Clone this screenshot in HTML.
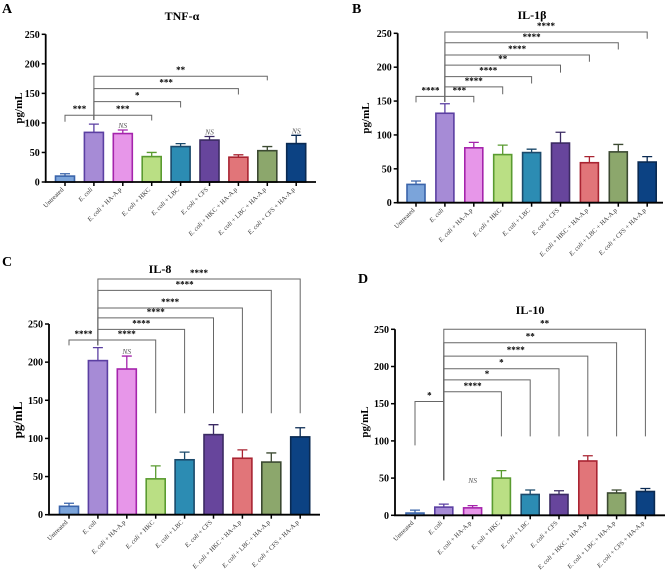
<!DOCTYPE html>
<html><head><meta charset="utf-8">
<style>
html,body{margin:0;padding:0;background:#fff;}
svg{display:block;font-family:"Liberation Serif",serif;}
</style></head>
<body>
<svg id="fig" width="669" height="578" viewBox="0 0 669 578" xmlns="http://www.w3.org/2000/svg"></svg>
<script>
// ---- data ----
const categories = ["Untreated","E. coli","E. coli + HA-A.p","E. coli + HKC","E. coli + LBC","E. coli + CFS","E. coli + HKC + HA-A.p","E. coli + LBC + HA-A.p","E. coli + CFS + HA-A.p"];
const tnfValues = [10,84,82,43,60,71,42,53,65];
const tnfErrors = [14,98,88,50,65,77,46,60,79];
const il1bValues = [27,132,81,71,74,88,59,75,60];
const il1bErrors = [32,146,89,85,79,104,68,86,68];
const il8Values = [11,202,191,47,72,105,74,69,102];
const il8Errors = [15,219,208,64,82,118,85,81,114];
const il10Values = [3,11,10,50,28,28,73,30,32];
const il10Errors = [7,15,13,60,34,33,80,34,36];
const yTicks = [0,50,100,150,200,250];
// brackets: [fromIndex, toIndex, height, leftLegEnd, rightLegEnd, label]
const tnfBrackets = [[0,1,113,102,105,"***"],[1,3,113,105,104,"***"],[1,4,136,105,126,"*"],[1,6,158,105,148,"***"],[1,7,179,105,172,"**"]];
const il1bBrackets = [[0,1,157,148,149,"****"],[1,2,157,149,148,"***"],[1,3,171,149,160,"****"],[1,4,186,149,176,"****"],[1,5,203,149,192,"**"],[1,6,218,149,208,"****"],[1,7,236,149,226,"****"],[1,8,252,149,242,"****"]];
const il8Brackets = [[0,1,229,222,222,"****"],[1,3,229,222,133,"****"],[1,4,243,222,133,"****"],[1,5,258,222,133,"****"],[1,6,271,222,133,"****"],[1,7,294,222,133,"****"],[1,8,309,222,133,"****"]];
const il10Brackets = [[0,1,153,94,47,"*"],[1,3,166,47,106,"****"],[1,4,182,47,106,"*"],[1,5,197,47,106,"*"],[1,6,214,47,106,"****"],[1,7,232,47,106,"**"],[1,8,250,47,106,"**"]];
const tnfNS = [[2,88],[5,77],[8,79]];
const il1bNS = [];
const il8NS = [[2,208]];
const il10NS = [[2,41]];

const fills = ["#7ba4da","#a68bd6","#e796e9","#badf84","#2c8cb3","#67459c","#e17579","#8ca76c","#0c4283"];
const strokes = ["#3a64aa","#5b3fa2","#a524ac","#5a9b30","#1b4a6b","#3b2b63","#a92432","#3c4a32","#0a2a52"];

const NS = "http://www.w3.org/2000/svg";
const svg = document.getElementById("fig");
function mk(tag, attrs, parent){const e=document.createElementNS(NS,tag);for(const k in attrs)e.setAttribute(k,attrs[k]);(parent||svg).appendChild(e);return e;}

function panel(cfg, values, errors, brackets, nsMarks){
  const g = mk("g",{});
  
  
  const y = v => cfg.y0 - v/250*(cfg.y0-cfg.y250);
  const x = i => cfg.x0 + i*cfg.step;
  const L = mk("text",{x:cfg.lx,y:cfg.ly,"font-size":14,"font-weight":"bold"},g); L.textContent=cfg.letter;
   
  const T = mk("text",{x:cfg.tx,y:cfg.ty,"font-size":12,"font-weight":"bold","text-anchor":"middle"},g); T.textContent=cfg.title;
   
  values.forEach((v,i)=>{
    const cx=x(i), bw=cfg.bw;
    const eb = mk("path",{d:`M${cx},${y(v)} V${y(errors[i])} M${cx-5},${y(errors[i])} H${cx+5}`,stroke:strokes[i],"stroke-width":1.3,fill:"none"},g);
     
    const r = mk("rect",{x:cx-bw/2,y:y(v),width:bw,height:Math.max(0,y(0)-y(v)),fill:fills[i],stroke:strokes[i],"stroke-width":1.6},g);
     
  });
  const ax = mk("path",{d:`M${cfg.ax},${cfg.y250} V${cfg.y0} H${cfg.xEnd}`,stroke:"#000","stroke-width":1.8,fill:"none"},g);
   
  yTicks.forEach(t=>{
    mk("line",{x1:cfg.ax-4,x2:cfg.ax,y1:y(t),y2:y(t),stroke:"#000","stroke-width":1.5},g);
    const tl = mk("text",{x:cfg.ax-6,y:y(t)+3.5,"font-size":10,"font-weight":"bold","text-anchor":"end"},g);
    tl.textContent=t;
     
  });
  categories.forEach((c,i)=>{
    mk("line",{x1:x(i),x2:x(i),y1:cfg.y0,y2:cfg.y0+4,stroke:"#000","stroke-width":1.5},g);
    const t = mk("text",{transform:`translate(${x(i)-1},${cfg.y0+8}) rotate(-45)`,"font-size":6.5,"text-anchor":"end",fill:"#333"},g);
     
    if(c.startsWith("E. coli")){
      const s=mk("tspan",{"font-style":"italic"},t); s.textContent="E. coli";
      const r=mk("tspan",{},t); r.textContent=c.slice(7);
    } else t.textContent=c;
  });
  const yl = mk("text",{transform:`translate(${cfg.ylx},${cfg.yly}) rotate(-90)`,"font-size":cfg.ylfs,"font-weight":"bold","text-anchor":"middle"},g);
  yl.textContent="pg/mL";
   
  brackets.forEach(b=>{
    const [a,c,h,legL,legR,lab]=b;
    const p = mk("path",{d:`M${x(a)},${y(legL)} V${y(h)} H${x(c)} V${y(legR)}`,stroke:"#666","stroke-width":1,fill:"none"},g);
     
    const t = mk("text",{x:(x(a)+x(c))/2,y:y(h)-3,"font-size":9,"font-weight":"bold","text-anchor":"middle"},g);
    t.textContent=lab;
     
  });
  nsMarks.forEach(n=>{
    const t = mk("text",{x:x(n[0]),y:y(n[1])-2,"font-size":7.5,"font-style":"italic","text-anchor":"middle",fill:"#555"},g);
    t.textContent="NS";
     
  });
}

panel({name:"panel-a-tnf",letter:"A",lx:2,ly:13,title:"TNF-α",tx:182,ty:20,x0:65,step:28.9,bw:19,y0:182,y250:34.3,ax:45.7,xEnd:316,ylx:22,yly:108,ylfs:11},tnfValues,tnfErrors,tnfBrackets,tnfNS);
panel({name:"panel-b-il1b",letter:"B",lx:352,ly:13,title:"IL-1β",tx:532,ty:19,x0:416,step:28.9,bw:18,y0:202.7,y250:33.3,ax:397.7,xEnd:663,ylx:369,yly:118,ylfs:11},il1bValues,il1bErrors,il1bBrackets,il1bNS);
panel({name:"panel-c-il8",letter:"C",lx:2,ly:266,title:"IL-8",tx:160,ty:273,x0:69,step:28.9,bw:19,y0:514.7,y250:324,ax:49,xEnd:320,ylx:22,yly:420,ylfs:13},il8Values,il8Errors,il8Brackets,il8NS);
panel({name:"panel-d-il10",letter:"D",lx:358,ly:283,title:"IL-10",tx:530,ty:314,x0:415,step:28.8,bw:18,y0:515.3,y250:329.3,ax:395,xEnd:665,ylx:368,yly:422,ylfs:11},il10Values,il10Errors,il10Brackets,il10NS);
</script>
</body></html>
